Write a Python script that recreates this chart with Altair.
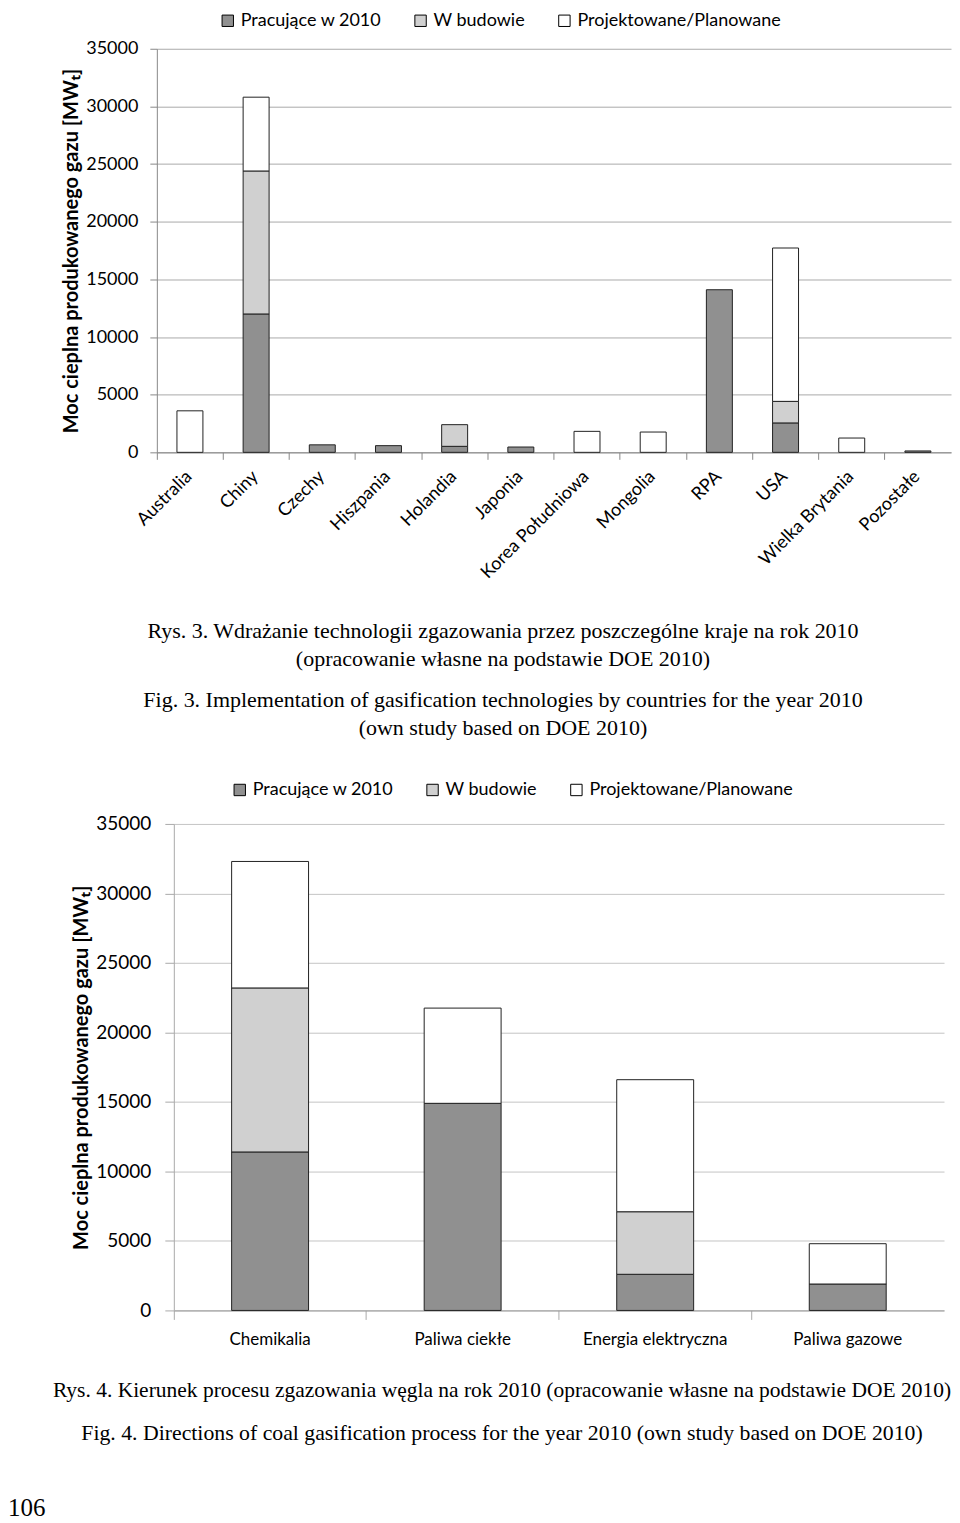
import altair as alt
import pandas as pd

series = ["Pracujące w 2010", "W budowie", "Projektowane/Planowane"]
colors = ["#909090", "#d0d0d0", "#ffffff"]

countries = ["Australia", "Chiny", "Czechy", "Hiszpania", "Holandia", "Japonia",
             "Korea Południowa", "Mongolia", "RPA", "USA", "Wielka Brytania", "Pozostałe"]
op1 = [0, 12000, 650, 580, 520, 460, 0, 0, 14100, 2550, 0, 120]
build1 = [0, 12400, 0, 0, 1880, 0, 0, 0, 0, 1870, 0, 0]
plan1 = [3600, 6400, 0, 0, 0, 0, 1820, 1760, 0, 13300, 1240, 0]

directions = ["Chemikalia", "Paliwa ciekłe", "Energia elektryczna", "Paliwa gazowe"]
op2 = [11400, 14900, 2600, 1900]
build2 = [11800, 0, 4500, 0]
plan2 = [9100, 6850, 9500, 2900]

y_ticks = [0, 5000, 10000, 15000, 20000, 25000, 30000, 35000]
y_title = "Moc cieplna produkowanego gazu [MWₜ]"

cap1_title = ["Rys. 3. Wdrażanie technologii zgazowania przez poszczególne kraje na rok 2010",
              "(opracowanie własne na podstawie DOE 2010)"]
cap1_sub = ["Fig. 3. Implementation of gasification technologies by countries for the year 2010",
            "(own study based on DOE 2010)"]
cap2_title = "Rys. 4. Kierunek procesu zgazowania węgla na rok 2010 (opracowanie własne na podstawie DOE 2010)"
cap2_sub = "Fig. 4. Directions of coal gasification process for the year 2010 (own study based on DOE 2010)"
page_no = ["106"]


def long_table(cats, a, b, c):
    rows = []
    for i, cat in enumerate(cats):
        for k, vals in enumerate([a, b, c]):
            rows.append({"cat": cat, "series": series[k], "ord": k, "value": vals[i]})
    return pd.DataFrame(rows)


df1 = long_table(countries, op1, build1, plan1)
df2 = long_table(directions, op2, build2, plan2)

FONT = "Lato"
SERIF = "Liberation Serif"


def legend(x, y, pad):
    return alt.Legend(orient="none", legendX=x, legendY=y, direction="horizontal",
                      title=None, symbolType="square", symbolSize=130, padding=pad,
                      symbolStrokeColor="#000", symbolStrokeWidth=1,
                      labelFont=FONT, labelFontSize=18, labelColor="#000", labelLimit=400,
                      labelOffset=4, columnPadding=30, columns=3)


color_scale = alt.Scale(domain=series, range=colors)

# ---------- chart 1 ----------
chart1 = alt.Chart(df1).transform_filter("datum.value > 0").mark_bar(
    size=26, stroke="#222", strokeWidth=1
).encode(
    x=alt.X("cat:N", sort=countries,
            scale=alt.Scale(paddingInner=0, paddingOuter=0),
            axis=alt.Axis(title=None, labelAngle=-45, labelFont=FONT, labelFontSize=18,
                          labelColor="#000", bandPosition=0, tickSize=7, tickColor="#888",
                          domainColor="#888", labelPadding=8, labelOffset=-7)),
    y=alt.Y("value:Q", stack="zero", scale=alt.Scale(domain=[0, 35000], nice=False),
            axis=alt.Axis(values=y_ticks, format="d", title=y_title, labelFont=FONT,
                          labelFontSize=18, labelColor="#000", tickSize=7, tickColor="#888",
                          domainColor="#888", gridColor="#aaaaaa", labelPadding=12,
                          titleFont=FONT, titleFontSize=20, titleFontWeight="bold",
                          titleColor="#000", titlePadding=4)),
    color=alt.Color("series:N", scale=color_scale, sort=series, legend=legend(59, -40, 3)),
    order=alt.Order("ord:Q"),
).properties(
    width=795, height=404,
    title=alt.TitleParams(text=cap1_title, subtitle=cap1_sub, orient="bottom",
                          anchor="middle", dx=-51, offset=39, font=SERIF, fontSize=22,
                          fontWeight="normal", color="#000", lineHeight=28,
                          subtitleFont=SERIF, subtitleFontSize=22, subtitleColor="#000",
                          subtitleLineHeight=28, subtitlePadding=19)
)

# ---------- chart 2 ----------
chart2 = alt.Chart(df2).transform_filter("datum.value > 0").mark_bar(
    size=77, stroke="#222", strokeWidth=1
).encode(
    x=alt.X("cat:N", sort=directions,
            scale=alt.Scale(paddingInner=0, paddingOuter=0),
            axis=alt.Axis(title=None, labelAngle=0, labelFont=FONT, labelFontSize=17,
                          labelColor="#000", bandPosition=0, tickSize=9, tickColor="#aaa",
                          domainColor="#999", labelPadding=12)),
    y=alt.Y("value:Q", stack="zero", scale=alt.Scale(domain=[0, 35000], nice=False),
            axis=alt.Axis(values=y_ticks, format="d", title=y_title, labelFont=FONT,
                          labelFontSize=19, labelColor="#000", tickSize=9, tickColor="#aaa",
                          domainColor="#aaa", gridColor="#c4c4c4", labelPadding=14,
                          titleFont=FONT, titleFontSize=20, titleFontWeight="bold",
                          titleColor="#000", titlePadding=4)),
    color=alt.Color("series:N", scale=color_scale, sort=series, legend=legend(56, -44, 1)),
    order=alt.Order("ord:Q"),
).properties(
    width=771, height=487,
    title=alt.TitleParams(text=cap2_title, subtitle=cap2_sub, orient="bottom",
                          anchor="middle", dx=-57, offset=33, font=SERIF, fontSize=21.5,
                          fontWeight="normal", color="#000",
                          subtitleFont=SERIF, subtitleFontSize=21.8, subtitleColor="#000",
                          subtitlePadding=21)
)

# spacer column (shifts chart 2 right) also carries the page number
spacer = alt.Chart(pd.DataFrame({"t": page_no})).mark_text(
    font=SERIF, fontSize=25, align="left", baseline="middle", color="#000"
).encode(text="t:N", x=alt.value(-149), y=alt.value(685)).properties(width=17, height=10)

row2 = alt.hconcat(spacer, chart2, spacing=0, bounds="flush").resolve_legend(color="independent")

chart = alt.vconcat(chart1, row2, spacing=372, bounds="flush", padding=0,
                    background="#ffffff").resolve_legend(
    color="independent"
).configure_view(stroke="transparent", strokeWidth=0)

chart.save("out.html", embed_options={"renderer": "svg", "actions": False})
